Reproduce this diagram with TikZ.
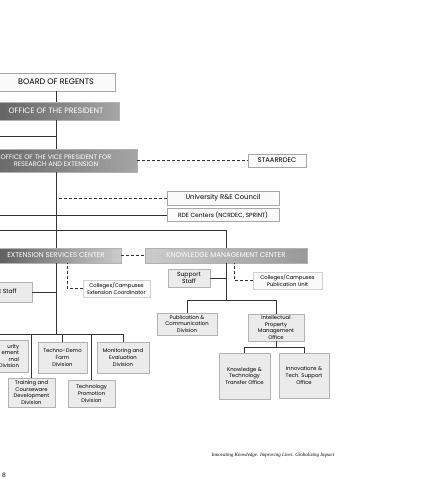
\documentclass[tikz,border=0pt]{standalone}
\usepackage{fontspec}
\setmainfont{Poppins}
\newfontfamily\mottofont{Liberation Serif}
\begin{document}
\begin{tikzpicture}[x=1pt, y=-1pt,
    link/.style={line width=0.9pt, draw=black!80},
    dlink/.style={link, dash pattern=on 3pt off 2pt},
    whitebox/.style={draw=gray!70, fill=gray!4, inner sep=1pt, font=\fontsize{6.8}{7.5}\selectfont},
    darkbox/.style={draw=gray!60, left color=black!62, right color=black!35, text=white, align=center, inner sep=1pt, font=\fontsize{7}{8}\selectfont},
    graybox/.style={draw=gray!60, fill=gray!16, align=center, inner sep=1pt, font=\fontsize{5.3}{6.6}\selectfont}]
    \useasboundingbox (0,0) rectangle (426,480);
    \clip (0,0) rectangle (426,480);
    % top of the chart
    \node[whitebox, minimum width=118pt, minimum height=18pt, font=\fontsize{8}{9}\selectfont] (bor) at (56,82) {BOARD OF REGENTS};
    \node[darkbox, minimum width=126pt, minimum height=18pt, font=\fontsize{7.8}{8.5}\selectfont] (op) at (56,111) {OFFICE OF THE PRESIDENT};
    \node[darkbox, minimum width=162pt, minimum height=23pt, font=\fontsize{6.6}{7.6}\selectfont] (vp) at (56,160.5) {OFFICE OF THE VICE PRESIDENT FOR\\RESEARCH AND EXTENSION};
    \node[whitebox, minimum width=58pt, minimum height=13pt] (sta) at (277,160.5) {STAARRDEC};
    \node[whitebox, minimum width=112pt, minimum height=14pt] (urc) at (223,198) {University R\&E Council};
    \node[whitebox, minimum width=112pt, minimum height=13pt, font=\fontsize{6}{7}\selectfont] (rde) at (223,215) {RDE Centers (NCRDEC, SPRINT)};
    \node[darkbox, minimum width=130pt, minimum height=15pt, left color=black!65, right color=black!20] (esc) at (56,255.5) {EXTENSION SERVICES CENTER};
    \node[darkbox, minimum width=162pt, minimum height=15pt, left color=black!20, middle color=black!65, right color=black!40] (kmc) at (226,255.5) {KNOWLEDGE MANAGEMENT CENTER};
    \coordinate (w1) at (-5,136);
    \coordinate (w2) at (-5,215);
    \coordinate (w3) at (-5,230);
    \draw[link] (bor) -- (op);
    \draw[link] (op) -- (vp);
    \draw[link] (vp) -- (esc);
    \draw[link] (w1) -- (w1 -| vp.north);
    \draw[dlink] (vp) -- (sta);
    \draw[dlink] (urc) -- (urc.west -| vp.south);
    \draw[link] (w2) -- (rde);
    \draw[link] (w3) -| (kmc);
    \draw[dlink] (esc) -- (kmc);
    % extension services center
    \node[graybox, minimum width=70pt, minimum height=20pt, font=\fontsize{6}{7}\selectfont] (ess) at (-3,292) {Support Staff};
    \node[graybox, minimum width=67pt, minimum height=17pt, draw=gray!35, fill=gray!4] (cce) at (116.5,288.5) {Colleges/Campuses\\Extension Coordinator};
    \node[graybox, minimum width=58pt, minimum height=32pt, text width=40pt, align=right] (sec) at (-1,356) {urity\\ement\\rnal\\Division};
    \node[graybox, minimum width=47pt, minimum height=29pt] (tcd) at (31.5,392.5) {Training and\\Courseware\\Development\\Division};
    \node[graybox, minimum width=49pt, minimum height=31pt] (tdf) at (62.5,357.5) {Techno-Demo\\Farm\\Division};
    \node[graybox, minimum width=47pt, minimum height=27pt] (tpd) at (91.5,393.5) {Technology\\Promotion\\Division};
    \node[graybox, minimum width=52pt, minimum height=31pt] (med) at (123,357.5) {Monitoring and\\Evaluation\\Division};
    \coordinate (ebus) at (-5,334);
    \draw[link] (esc) -- (esc.south |- ebus);
    \draw[link] (ess) -- (ess -| esc.south);
    \draw[dlink] (cce) -| ([xshift=11pt]esc.south);
    \draw[link] (ebus) -| (med);
    \foreach \n in {tcd, tdf, tpd}
        \draw[link] (\n) -- (\n.north |- ebus);
    % knowledge management center
    \node[graybox, minimum width=42pt, minimum height=18pt, font=\fontsize{6}{6.8}\selectfont] (kss) at (189,278) {Support\\Staff};
    \node[graybox, minimum width=69pt, minimum height=17pt, draw=gray!35, fill=gray!4] (cpu) at (287.5,280.5) {Colleges/Campuses\\Publication Unit};
    \node[graybox, minimum width=60pt, minimum height=22pt] (pcd) at (187,324) {Publication \&\\Communication\\Division};
    \node[graybox, minimum width=56pt, minimum height=27pt] (ipmo) at (276,327.5) {Intellectual\\Property\\Management\\Office};
    \node[graybox, minimum width=51pt, minimum height=46pt] (ktto) at (244.5,376) {Knowledge \&\\Technology\\Transfer Office};
    \node[graybox, minimum width=50pt, minimum height=45pt] (itso) at (304,375.5) {Innovations \&\\Tech. Support\\Office};
    \coordinate (kbus) at (0,300);
    \coordinate (ibus) at (0,347);
    \draw[link] (kmc) -- (kmc.south |- kbus);
    \draw[link] (kss) -- (kss -| kmc.south);
    \draw[dlink] (cpu) -| ([xshift=8pt]kmc.south);
    \draw[link] (pcd) |- (ipmo.north |- kbus) -- (ipmo);
    \draw[link] (ipmo) -- (ipmo.south |- ibus);
    \draw[link] (ktto) |- (itso.north |- ibus) -- (itso);
    % footer
    \node[font=\mottofont\itshape\fontsize{5}{6}\selectfont] (motto) at (273,455) {Innovating Knowledge. Improving Lives. Globalizing Impact};
    \node[font=\fontsize{6}{7}\selectfont] (pg) at (4,475) {8};
\end{tikzpicture}
\end{document}
